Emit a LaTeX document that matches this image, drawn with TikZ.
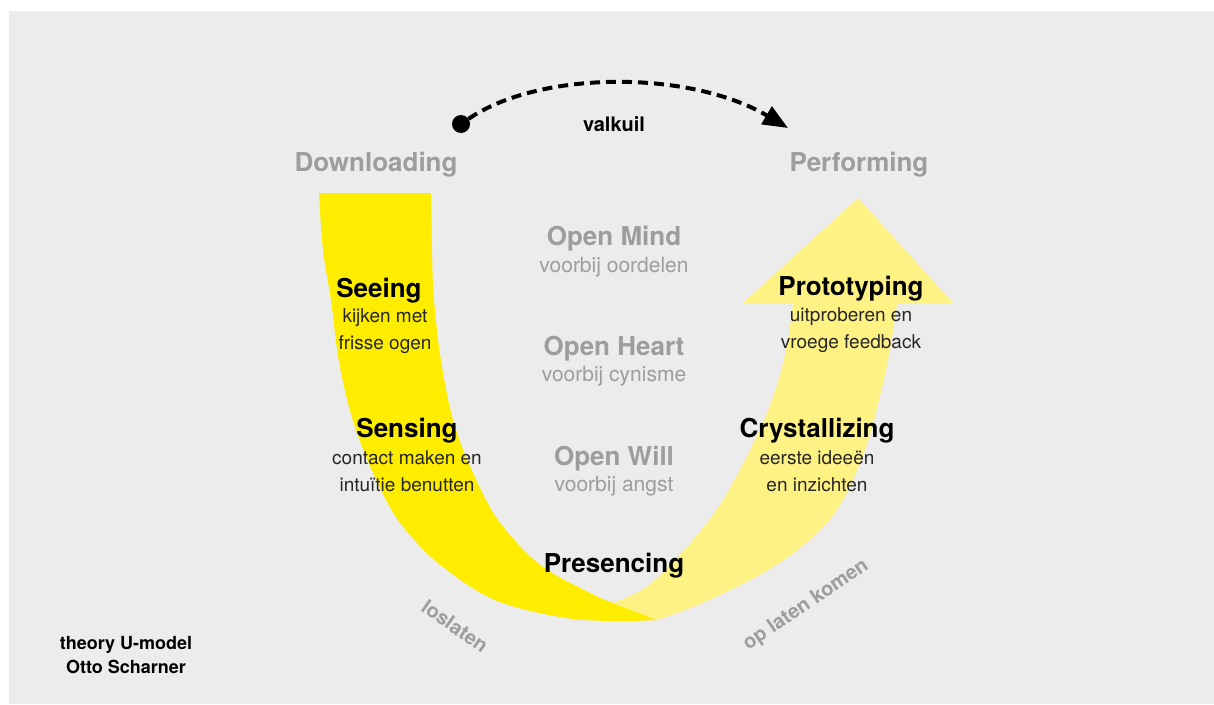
\documentclass[tikz,border=0pt]{standalone}
\usepackage{fontspec}
\setmainfont{TeX Gyre Heros}
\usepackage{xcolor}
\usepackage{tikz}
\usetikzlibrary{arrows.meta}

\definecolor{bggray}{HTML}{ECECEC}
\definecolor{ugold}{HTML}{FFED00}
\definecolor{ulight}{HTML}{FFF285}
\definecolor{softgray}{HTML}{9D9D9D}

\tikzset{
  phase/.style={font=\bfseries\fontsize{26}{30}\selectfont, text=softgray, inner sep=0pt, anchor=base},
  stage/.style={font=\bfseries\fontsize{26}{30}\selectfont, text=black, inner sep=0pt, anchor=base},
  stagenote/.style={font=\fontsize{19}{26.7}\selectfont, text=black!85, align=center, inner sep=0pt, anchor=base},
  openhead/.style={font=\bfseries\fontsize{26}{30}\selectfont, text=softgray, inner sep=0pt, anchor=base},
  opennote/.style={font=\fontsize{21}{26}\selectfont, text=softgray, inner sep=0pt, anchor=base},
  sidelabel/.style={font=\bfseries\fontsize{20}{24}\selectfont, text=softgray, inner sep=0pt},
}

\begin{document}
\begin{tikzpicture}[x=1pt, y=-1pt]

        \useasboundingbox (0,0) rectangle (1214,704);

        %% Background
        \fill [bggray] (9,11) rectangle (1214,704);

        %% Left half of the U (letting go)
        \fill [ugold] plot [smooth, tension=0.6] coordinates {(319,193) (323,250) (331,300) (340,367) (357,433) (386,500) (410,535) (443,567) (495,600) (560,617) (610,621) (658,620)}
              -- plot [smooth, tension=0.6] coordinates {(613,603) (590,593) (543,567) (510,535) (486,500) (457,433) (442,367) (434,300) (432,250) (431,193)}
              -- cycle;

        %% Right half of the U with its arrow head (letting come)
        \fill [ulight] plot [smooth, tension=0.6] coordinates {(613,603) (645,588) (672,563) (697,535) (723,500) (750,450) (772,400) (786,350) (793,303)}
              -- (743,303) -- (858,198) -- (953,303)
              -- plot [smooth, tension=0.6] coordinates {(897,303) (890,350) (879,400) (865,450) (843,500) (817,533) (773,567) (707,601) (657,620)}
              -- cycle;

        %% Shortcut
        \node (pitstart) [circle, fill=black, minimum size=18pt, inner sep=0pt] at (461,124) {};
        \coordinate (pitend) at (788,128);
        \draw [line width=4pt, dash pattern=on 10pt off 6pt, -{Triangle[length=25pt, width=20pt]}] (pitstart) .. controls (540,70) and (690,70) .. (pitend);
        \node (pitlabel) [font=\bfseries\fontsize{20}{24}\selectfont, inner sep=0pt, anchor=base] at (614,131) {valkuil};

        %% Start and end
        \node (downloading) [phase] at (376,171) {Downloading};
        \node (performing) [phase] at (859,171) {Performing};

        %% Openings
        \node (mind) [openhead] at (614,245) {Open Mind};
        \node (mindtxt) [opennote] at (614,272) {voorbij oordelen};
        \node (heart) [openhead] at (614,355) {Open Heart};
        \node (hearttxt) [opennote] at (614,381) {voorbij cynisme};
        \node (will) [openhead] at (614,465) {Open Will};
        \node (willtxt) [opennote] at (614,491) {voorbij angst};

        %% Stages down (base of a note is its last line)
        \node (seeing) [stage] at (379,297) {Seeing};
        \node (seeingtxt) [stagenote] at (385,349) {kijken met\\frisse ogen};
        \node (sensing) [stage] at (407,437) {Sensing};
        \node (sensingtxt) [stagenote] at (407,491) {contact maken en\\intuïtie benutten};

        %% Bottom
        \node (presencing) [stage] at (614,572) {Presencing};

        %% Stages up
        \node (crystal) [stage] at (817,437) {Crystallizing};
        \node (crystaltxt) [stagenote] at (817,491) {eerste ideeën\\en inzichten};
        \node (proto) [stage] at (851,295) {Prototyping};
        \node (prototxt) [stagenote] at (851,348) {uitproberen en\\vroege feedback};

        %% Along the curve
        \node (letgo) [sidelabel, rotate=-35] at (455,626) {loslaten};
        \node (letcome) [sidelabel, rotate=34] at (806,605) {op laten komen};

        %% Credit
        \node (credit) [font=\bfseries\fontsize{18}{23.3}\selectfont, align=center, inner sep=0pt, anchor=base] at (126,673) {theory U-model\\Otto Scharner};

\end{tikzpicture}
\end{document}
